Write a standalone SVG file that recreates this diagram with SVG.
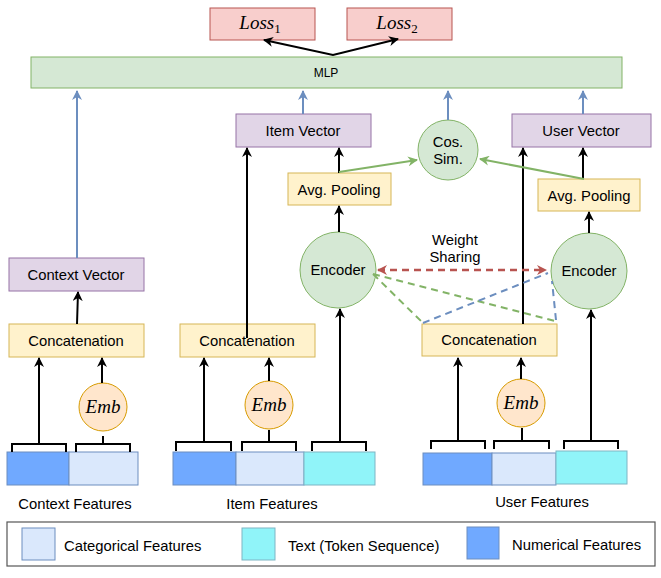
<svg xmlns="http://www.w3.org/2000/svg" width="661" height="578" viewBox="0 0 661 578">
<defs>
<style>
text{font-family:"Liberation Sans",Arial,sans-serif;font-size:14.8px;fill:#000;}
.c{text-anchor:middle;}
.loss{font-family:"Liberation Serif","Times New Roman",serif;font-style:italic;font-size:19px;}
.emb{font-family:"Liberation Serif","Times New Roman",serif;font-style:italic;font-size:19px;}
.purple{fill:#e1d5e7;stroke:#9673a6;stroke-width:1;}
.yellow{fill:#fff2cc;stroke:#d6b656;stroke-width:1;}
.green{fill:#d5e8d4;stroke:#82b366;stroke-width:1;}
.red{fill:#f8cecc;stroke:#b85450;stroke-width:1;}
.orange{fill:#ffe6cc;stroke:#d79b00;stroke-width:1;}
.num{fill:#70a9ff;stroke:#6c8ebf;stroke-width:1;}
.cat{fill:#dae8fc;stroke:#6c8ebf;stroke-width:1;}
.txt{fill:#90f4f9;stroke:#7eb5c4;stroke-width:1;}
.blk{fill:none;stroke:#000;stroke-width:2;}
.blue{fill:none;stroke:#6c8ebf;stroke-width:2;}
.gr{fill:none;stroke:#82b366;stroke-width:2;}
.dr{fill:none;stroke:#b85450;stroke-width:2.5;stroke-dasharray:7,5;}
.dg{fill:none;stroke:#82b366;stroke-width:2;stroke-dasharray:7,5;}
.db{fill:none;stroke:#6c8ebf;stroke-width:2;stroke-dasharray:7,5;}
</style>
<marker id="ak" viewBox="0 0 10 10" refX="9" refY="5" markerWidth="5" markerHeight="5" orient="auto-start-reverse" markerUnits="strokeWidth"><path d="M0,0 L10,5 L0,10 L3,5 z" fill="#000"/></marker>
<marker id="ab" viewBox="0 0 10 10" refX="9" refY="5" markerWidth="5" markerHeight="5" orient="auto" markerUnits="strokeWidth"><path d="M0,0 L10,5 L0,10 L3,5 z" fill="#6c8ebf"/></marker>
<marker id="ag" viewBox="0 0 10 10" refX="9" refY="5" markerWidth="5" markerHeight="5" orient="auto" markerUnits="strokeWidth"><path d="M0,0 L10,5 L0,10 L3,5 z" fill="#82b366"/></marker>
<marker id="ar" viewBox="0 0 10 10" refX="9" refY="5" markerWidth="4" markerHeight="4" orient="auto-start-reverse" markerUnits="strokeWidth"><path d="M0,0 L10,5 L0,10 L3,5 z" fill="#b85450"/></marker>
</defs>
<rect width="661" height="578" fill="#fff"/>

<g id="loss1"><rect class="red" x="210" y="8" width="105" height="32"/><text class="loss c" x="260" y="29">Loss<tspan font-size="13" font-style="normal" dy="4">1</tspan></text></g>
<g id="loss2"><rect class="red" x="347" y="8" width="105" height="32"/><text class="loss c" x="397" y="29">Loss<tspan font-size="13" font-style="normal" dy="4">2</tspan></text></g>
<g id="mlp"><rect class="green" x="31" y="57" width="591" height="31"/><text class="c" x="326" y="77" style="font-size:12px">MLP</text></g>

<g id="item-vector"><rect class="purple" x="236" y="114" width="135" height="33"/><text class="c" x="303" y="136">Item Vector</text></g>
<g id="user-vector"><rect class="purple" x="512" y="114" width="139" height="33"/><text class="c" x="581" y="136">User Vector</text></g>
<g id="cos-sim"><circle class="green" cx="448" cy="150" r="30"/><text class="c" x="448" y="147">Cos.</text><text class="c" x="448" y="164">Sim.</text></g>
<g id="avg-pool-item"><rect class="yellow" x="288" y="173" width="103" height="32"/><text class="c" x="339" y="195">Avg. Pooling</text></g>
<g id="avg-pool-user"><rect class="yellow" x="538" y="179" width="102" height="32"/><text class="c" x="589" y="201">Avg. Pooling</text></g>
<g id="encoder-item"><circle class="green" cx="338" cy="270" r="38"/><text class="c" x="338" y="275">Encoder</text></g>
<g id="encoder-user"><circle class="green" cx="589" cy="271" r="38"/><text class="c" x="589" y="276">Encoder</text></g>
<g id="weight-sharing"><text class="c" x="455" y="245">Weight</text><text class="c" x="455" y="262">Sharing</text></g>

<g id="context-vector"><rect class="purple" x="9" y="258" width="135" height="33"/><text class="c" x="76" y="280">Context Vector</text></g>
<g id="concat-context"><rect class="yellow" x="9" y="324" width="135" height="33"/><text class="c" x="76" y="346">Concatenation</text></g>
<g id="concat-item"><rect class="yellow" x="180" y="324" width="135" height="33"/><text class="c" x="247" y="346">Concatenation</text></g>
<g id="concat-user"><rect class="yellow" x="422" y="324" width="135" height="32"/><text class="c" x="489" y="345">Concatenation</text></g>

<g id="emb-context"><circle class="orange" cx="103" cy="407" r="24"/><text class="emb c" x="103" y="413">Emb</text></g>
<g id="emb-item"><circle class="orange" cx="269" cy="405" r="24"/><text class="emb c" x="269" y="411">Emb</text></g>
<g id="emb-user"><circle class="orange" cx="521" cy="403" r="24"/><text class="emb c" x="521" y="409">Emb</text></g>

<g id="context-features">
<rect class="num" x="7" y="452" width="62" height="33"/><rect class="cat" x="69" y="452" width="69" height="33"/>
<text class="c" x="75" y="509">Context Features</text></g>
<g id="item-features">
<rect class="num" x="173" y="452" width="63" height="33"/><rect class="cat" x="236" y="452" width="68" height="33"/><rect class="txt" x="304" y="452" width="71" height="33"/>
<text class="c" x="272" y="509">Item Features</text></g>
<g id="user-features">
<rect class="num" x="423" y="453" width="69" height="32"/><rect class="cat" x="492" y="453" width="64" height="32"/><rect class="txt" x="556" y="451" width="71" height="33"/>
<text class="c" x="542" y="507">User Features</text></g>

<g id="connectors">
<path class="blk" d="M12,452 V444 H66 V452 M76,452 V444 H130 V452 M103,444 V436"/>
<path class="blk" d="M176,451 V442 H231 V451 M242,451 V442 H296 V451 M269,442 V430 M312,451 V442 H366 V451"/>
<path class="blk" d="M431,449 V441 H485 V449 M494,449 V441 H549 V449 M522,441 V428 M564,449 V441 H618 V449"/>
<path class="blk" marker-end="url(#ak)" d="M39,444 V358"/>
<path class="blk" marker-end="url(#ak)" d="M102,383 V358"/>
<path class="blk" marker-end="url(#ak)" d="M77,324 L78,292"/>
<path class="blk" marker-end="url(#ak)" d="M204,442 V358"/>
<path class="blk" marker-end="url(#ak)" d="M269,381 V358"/>
<path class="blk" marker-end="url(#ak)" d="M340,442 V309"/>
<path class="blk" marker-end="url(#ak)" d="M247,338 V148"/>
<path class="blk" marker-end="url(#ak)" d="M339,232 V206"/>
<path class="blk" marker-end="url(#ak)" d="M339,173 V148"/>
<path class="blk" marker-end="url(#ak)" d="M458,441 V358"/>
<path class="blk" marker-end="url(#ak)" d="M521,379 V358"/>
<path class="blk" marker-end="url(#ak)" d="M591,441 V310"/>
<path class="blk" marker-end="url(#ak)" d="M523,324 V148"/>
<path class="blk" marker-end="url(#ak)" d="M589,233 V212"/>
<path class="blk" marker-end="url(#ak)" d="M583,179 V148"/>
<path class="blk" marker-start="url(#ak)" marker-end="url(#ak)" d="M264,40 L333,55 L398,39"/>
<path class="blue" marker-end="url(#ab)" d="M77,258 V91"/>
<path class="blue" marker-end="url(#ab)" d="M303,114 V91"/>
<path class="blue" marker-end="url(#ab)" d="M448,120 V91"/>
<path class="blue" marker-end="url(#ab)" d="M583,114 V91"/>
<path class="gr" marker-end="url(#ag)" d="M339,172 L417,160"/>
<path class="gr" marker-end="url(#ag)" d="M584,179 L480,159"/>
<path class="dr" marker-start="url(#ar)" marker-end="url(#ar)" d="M378,270 H546"/>
<path class="dg" d="M373,274 L423,323 M373,274 L555,321"/>
<path class="db" d="M423,323 L548,273 M556,320 L552,281"/>
</g>

<g id="legend">
<rect x="7" y="522" width="648" height="44" fill="#fff" stroke="#555" stroke-width="1.2"/>
<rect class="cat" x="22" y="528" width="33" height="32"/><text x="64" y="551">Categorical Features</text>
<rect class="txt" x="242" y="528" width="33" height="32"/><text x="288" y="551">Text (Token Sequence)</text>
<rect class="num" x="467" y="527" width="32" height="32"/><text x="512" y="550">Numerical Features</text>
</g>
</svg>
